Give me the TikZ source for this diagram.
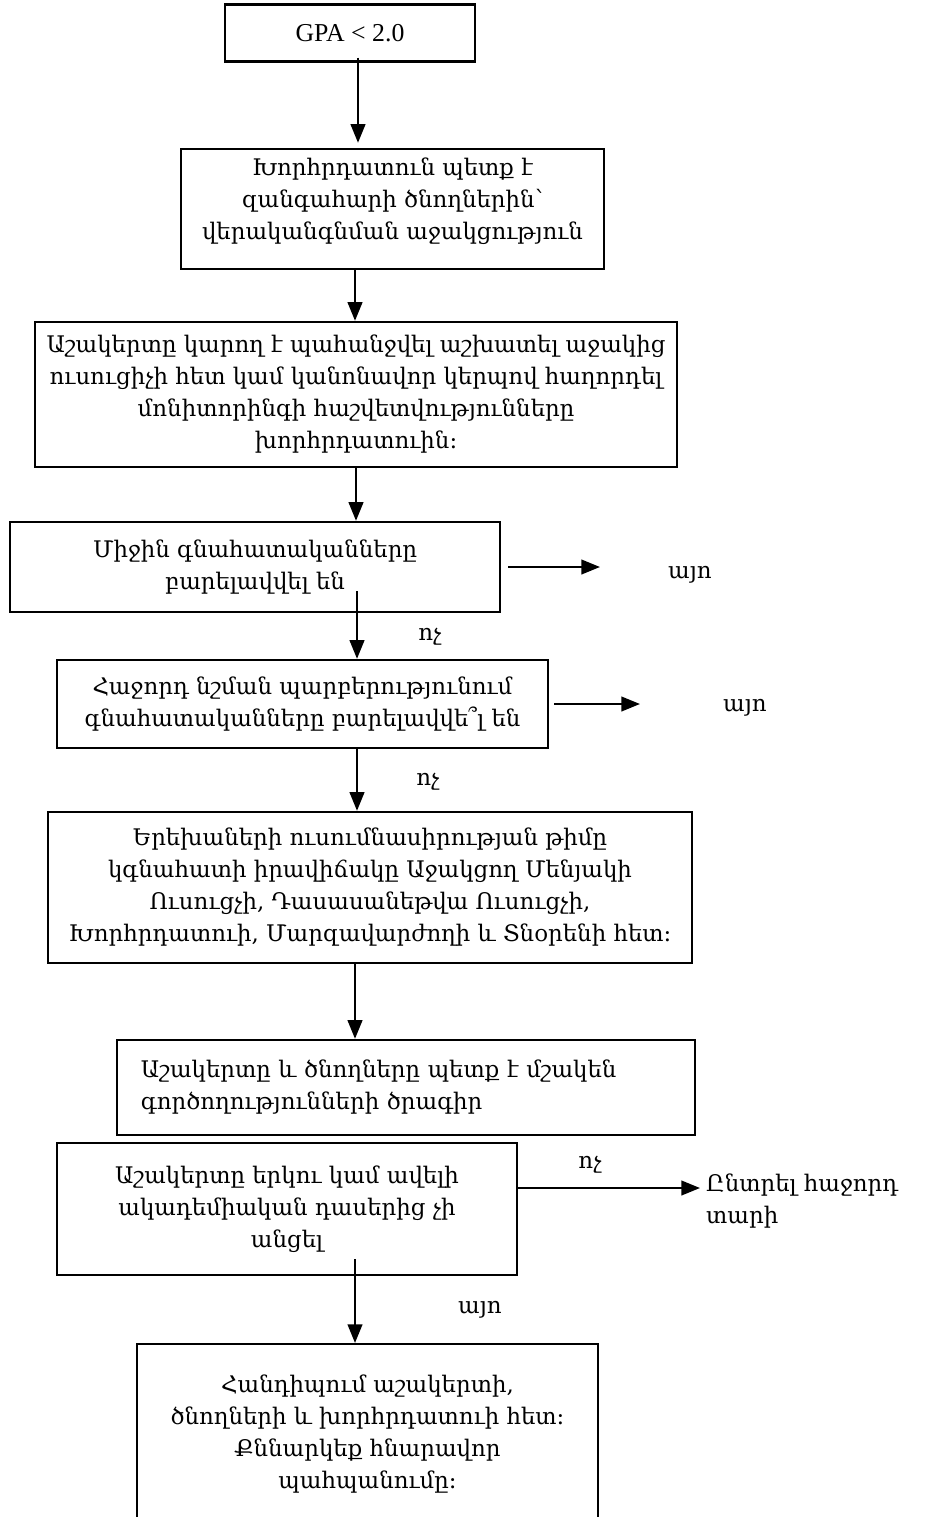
\documentclass[tikz,border=0pt]{standalone}
\usepackage{fontspec}
\setmainfont{DejaVu Serif}
\newfontfamily\timesfont{Liberation Serif}
\usetikzlibrary{arrows.meta}
\tikzset{
every node/.style={inner sep=0pt},
box/.style={rectangle, draw=black, line width=2pt, align=center, font=\fontsize{19.5}{27.3}\selectfont},
arr/.style={line width=2pt, -{Triangle[length=16pt,width=12.5pt]}},
}

\begin{document}
\begin{tikzpicture}[
  x=0.03cm, y=-0.03cm,
  lbl/.style={font=\fontsize{19.5}{27.3}\selectfont},
]
%% one unit = one pixel of the 938 x 1517 page
\useasboundingbox (0,0) rectangle (938,1517);

%% ---- main column ----
\node[box, minimum width=7.5cm, minimum height=1.71cm, font=\timesfont\fontsize{22}{26}\selectfont] (gpa) at (350,33) {GPA < 2.0};
\node[box, minimum width=12.69cm, minimum height=3.6cm, text depth=0.6cm] (cns) at (392.5,209)
  {Խորհրդատուն պետք է\\զանգահարի ծնողներին՝\\վերականգնման աջակցություն};
\node[box, minimum width=19.26cm, minimum height=4.35cm] (sup) at (356,394.5)
  {Աշակերտը կարող է պահանջվել աշխատել աջակից\\ուսուցիչի հետ կամ կանոնավոր կերպով հաղորդել\\մոնիտորինգի հաշվետվությունները\\խորհրդատուին:};
\node[box, minimum width=14.7cm, minimum height=2.7cm] (avg) at (255,567)
  {Միջին գնահատականները\\բարելավվել են};
\node[box, minimum width=14.73cm, minimum height=2.64cm] (nxt) at (302.5,704)
  {Հաջորդ նշման պարբերությունում\\գնահատականները բարելավվե՞լ են};
\node[box, minimum width=19.32cm, minimum height=4.53cm] (team) at (370,887.5)
  {Երեխաների ուսումնասիրության թիմը\\կգնահատի իրավիճակը Աջակցող Մենյակի\\Ուսուցչի, Դասասանեթվա Ուսուցչի,\\Խորհրդատուի, Մարզավարժողի և Տնօրենի հետ:};
\node[box, minimum width=17.34cm, minimum height=2.85cm, text width=15.9cm, inner xsep=0.72cm, align=left] (plan) at (406,1087.5)
  {Աշակերտը և ծնողները պետք է մշակեն\\գործողությունների ծրագիր};
\node[box, minimum width=13.8cm, minimum height=3.96cm] (fail) at (287,1209)
  {Աշակերտը երկու կամ ավելի\\ակադեմիական դասերից չի\\անցել};
\node[box, minimum width=13.83cm, minimum height=5.4cm, anchor=north] (meet) at (367.5,1343)
  {Հանդիպում աշակերտի,\\ծնողների և խորհրդատուի հետ:\\Քննարկեք հնարավոր\\պահպանումը:};

%% ---- side answers ----
\coordinate (ye1) at (600,567);
\coordinate (ye2) at (640,704);
\coordinate (ne3) at (700,1188);
\node[lbl] (yes1) at (690,575) {այո};
\node[lbl] (yes2) at (745,708) {այո};
\node[lbl] (no1) at (430,637) {ոչ};
\node[lbl] (no2) at (428,782) {ոչ};
\node[lbl] (no3) at (590,1165) {ոչ};
\node[lbl] (yes3) at (480,1310) {այո};
\node[lbl, anchor=west, align=left] (repeat) at (706,1201) {Ընտրել հաջորդ\\տարի};

%% ---- connectors ----
\draw[arr] ([xshift=.24cm, yshift=.15cm]gpa.south) -- ([xshift=.24cm, yshift=.15cm]gpa.south |- cns.north);
\draw[arr] ([xshift=-1.125cm]cns.south) -- ([xshift=-1.125cm]cns.south |- sup.north);
\draw[arr] (sup.south) -- (sup.south |- avg.north);
\draw[arr] ([xshift=3.06cm, yshift=.66cm]avg.south) -- ([xshift=3.06cm]avg.south |- nxt.north);
\draw[arr] ([xshift=1.635cm]nxt.south) -- ([xshift=1.635cm]nxt.south |- team.north);
\draw[arr] ([xshift=-.45cm]team.south) -- ([xshift=-.45cm]team.south |- plan.north);
\draw[arr] ([xshift=2.04cm, yshift=.51cm]fail.south) -- ([xshift=2.04cm]fail.south |- meet.north);
\draw[arr] ([xshift=.21cm]avg.east) -- (ye1);
\draw[arr] ([xshift=.15cm]nxt.east) -- (ye2);
\draw[arr] (fail.east |- ne3) -- (ne3);
\end{tikzpicture}
\end{document}
